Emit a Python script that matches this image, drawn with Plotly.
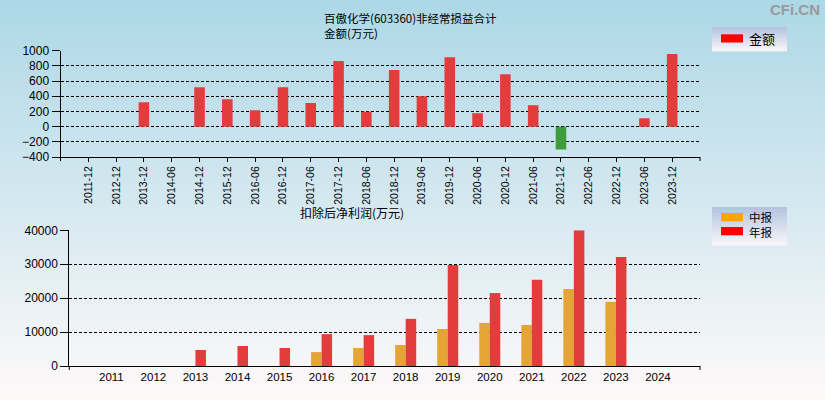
import plotly.graph_objects as go

# ---------------- data ----------------
top_periods = ["2011-12", "2012-12", "2013-12", "2014-06", "2014-12", "2015-12",
               "2016-06", "2016-12", "2017-06", "2017-12", "2018-06", "2018-12",
               "2019-06", "2019-12", "2020-06", "2020-12", "2021-06", "2021-12",
               "2022-06", "2022-12", "2023-06", "2023-12"]
amounts = [None, None, 320, None, 520, 360, 215, 520, 310, 865, 195, 745,
           400, 915, 175, 690, 280, -300, None, None, 110, 955]

years = ["2011", "2012", "2013", "2014", "2015", "2016", "2017", "2018",
         "2019", "2020", "2021", "2022", "2023", "2024"]
interim = [None, None, None, None, None, 4100, 5300, 6200, 10900, 12700,
           12100, 22700, 18900, None]
annual = [None, None, 4700, 5900, 5300, 9400, 9100, 13900, 29800, 21500,
          25400, 40000, 32100, None]

top_yticks = [-400, -200, 0, 200, 400, 600, 800, 1000]
bot_yticks = [0, 10000, 20000, 30000, 40000]

title_text = "百傲化学(603360)非经常损益合计"
top_ytitle = "金额(万元)"
bot_title = "扣除后净利润(万元)"

# ---------------- layout helpers ----------------
W, H = 825, 400


def px(x):
    return x / W


def py(y):
    return 1 - y / H


def lerp(c1, c2, t):
    return "rgb(%d,%d,%d)" % tuple(round(a + (b - a) * t) for a, b in zip(c1, c2))


CJK = "Noto Sans CJK SC"
LAT = "Liberation Sans, Arial"

fig = go.Figure()

pos_col = "#E33C3C"
neg_col = "#3E9C3E"
fig.add_trace(go.Bar(
    x=top_periods, y=amounts, width=0.38,
    marker=dict(color=[(pos_col if (v is not None and v >= 0) else neg_col) for v in amounts],
                line=dict(width=0)),
    name="金额", xaxis="x", yaxis="y", showlegend=False,
))
fig.add_trace(go.Bar(
    x=years, y=interim, name="中报", marker=dict(color="#E5A436", line=dict(width=0)),
    xaxis="x2", yaxis="y2", showlegend=False, offsetgroup="a",
))
fig.add_trace(go.Bar(
    x=years, y=annual, name="年报", marker=dict(color=pos_col, line=dict(width=0)),
    xaxis="x2", yaxis="y2", showlegend=False, offsetgroup="b",
))

shapes = []
# background gradient
top_c = (173, 216, 230)
mid_c = (212, 232, 240)
bot_c = (254, 249, 249)
N = 80
for i in range(N):
    t = i / (N - 1)
    if t < 0.5:
        col = lerp(top_c, mid_c, t / 0.5)
    else:
        col = lerp(mid_c, bot_c, (t - 0.5) / 0.5)
    shapes.append(dict(type="rect", xref="paper", yref="paper", layer="below",
                       x0=0, x1=1, y0=1 - (i + 1) / N - 0.002, y1=1 - i / N,
                       fillcolor=col, line=dict(width=0)))


def legend_box(x0, y0, x1, y1):
    n = 12
    for i in range(n):
        t = i / (n - 1)
        col = lerp((182, 196, 224), (246, 244, 248), t)
        ya = y0 + (y1 - y0) * i / n
        yb = y0 + (y1 - y0) * (i + 1) / n + 0.5
        shapes.append(dict(type="rect", xref="paper", yref="paper", layer="above",
                           x0=px(x0), x1=px(x1), y0=py(yb), y1=py(ya),
                           fillcolor=col, line=dict(width=0)))


legend_box(712, 27, 787, 51)
shapes.append(dict(type="rect", xref="paper", yref="paper", layer="above",
                   x0=px(721), x1=px(743), y0=py(42.5), y1=py(34.3),
                   fillcolor="#FF0000", line=dict(width=0)))
legend_box(712, 207, 787, 245)
shapes.append(dict(type="rect", xref="paper", yref="paper", layer="above",
                   x0=px(721), x1=px(743), y0=py(221.3), y1=py(213),
                   fillcolor="#FFA500", line=dict(width=0)))
shapes.append(dict(type="rect", xref="paper", yref="paper", layer="above",
                   x0=px(721), x1=px(743), y0=py(235.3), y1=py(227),
                   fillcolor="#FF0000", line=dict(width=0)))

# small end ticks on x axes
for (xx, ya, yb) in [(60.5, 157, 161), (700, 157, 161), (69.3, 366, 370), (700, 366, 370)]:
    shapes.append(dict(type="line", xref="paper", yref="paper", layer="above",
                       x0=px(xx), x1=px(xx), y0=py(ya), y1=py(yb),
                       line=dict(color="black", width=1)))


def note(text, x, y, size=12, anchor="left", color="black", family=CJK):
    return dict(text=text, x=px(x), y=py(y), xref="paper", yref="paper",
                xanchor=anchor, yanchor="middle", showarrow=False, align="left",
                font=dict(family=family, size=size, color=color))


annotations = [
    note(title_text + "<br>" + top_ytitle, 322, 25.5, size=11.5),
    note(bot_title, 297.5, 212.5),
    note("<b>CFi.CN</b>", 822, 9.5, size=15, anchor="right", color="#9A9A9A", family=LAT),
    note("金额", 747, 38.5, size=13),
    note("中报<br>年报", 747, 224.2, size=11.5),
]

grid_common = dict(showgrid=True, gridcolor="black", gridwidth=1, griddash="3px,2px",
                   showline=True, linecolor="black", linewidth=1, automargin=False,
                   ticks="outside", ticklen=8, tickcolor="black", tickformat="d",
                   zeroline=False, tickfont=dict(family=LAT, size=12, color="black"))

fig.update_layout(
    width=W, height=H, autosize=False,
    margin=dict(l=0, r=0, t=0, b=0, pad=0, autoexpand=False),
    paper_bgcolor="#D6E9F0",
    plot_bgcolor="rgba(0,0,0,0)",
    barmode="group", bargap=0.5, bargroupgap=0,
    shapes=shapes, annotations=annotations,
    showlegend=False,
    xaxis=dict(domain=[px(60.5), px(700)], anchor="y", type="category",
               categoryorder="array", categoryarray=top_periods,
               range=[-1, len(top_periods)], tickangle=-90, automargin=False,
               showline=True, linecolor="black", linewidth=1,
               ticks="outside", ticklen=4, tickcolor="black", showgrid=False,
               tickfont=dict(family=LAT, size=10.5, color="black")),
    yaxis=dict(domain=[py(157), py(50.7)], anchor="x", range=[-400, 1000],
               tickvals=top_yticks, **grid_common),
    xaxis2=dict(domain=[px(69.3), px(700)], anchor="y2", type="category",
                categoryorder="array", categoryarray=years,
                range=[-1, len(years)], automargin=False,
                showline=True, linecolor="black", linewidth=1,
                ticks="", showgrid=False,
                tickfont=dict(family=LAT, size=11.5, color="black")),
    yaxis2=dict(domain=[py(366), py(230.3)], anchor="x2", range=[0, 40000],
                tickvals=bot_yticks, **grid_common),
)

fig.write_html("out.html", config={"displayModeBar": False},
               post_script="document.body.style.margin='0';document.body.style.overflow='hidden';")
